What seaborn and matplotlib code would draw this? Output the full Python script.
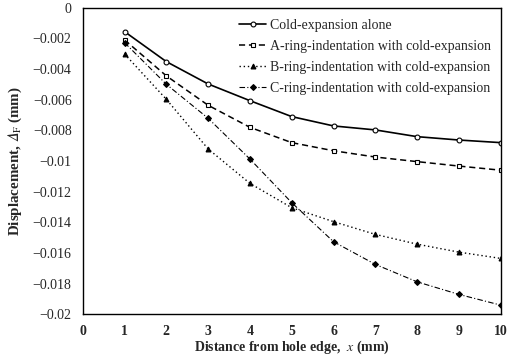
import matplotlib
matplotlib.use("Agg")
import matplotlib.pyplot as plt
import seaborn as sns
import pandas as pd

x = [1, 2, 3, 4, 5, 6, 7, 8, 9, 10]
cold = [-0.00155, -0.00351, -0.00497, -0.00606, -0.0071, -0.00771, -0.00797, -0.00841, -0.00863, -0.0088]
ring_a = [-0.00209, -0.00444, -0.00636, -0.0078, -0.0088, -0.00933, -0.00974, -0.01004, -0.01033, -0.0106]
ring_b = [-0.00301, -0.00597, -0.00921, -0.01146, -0.01305, -0.01396, -0.01479, -0.01543, -0.01595, -0.01636]
ring_c = [-0.00227, -0.00499, -0.00721, -0.00987, -0.01272, -0.01527, -0.01675, -0.01789, -0.01871, -0.01941]
names = ["Cold-expansion alone",
         "A-ring-indentation with cold-expansion",
         "B-ring-indentation with cold-expansion",
         "C-ring-indentation with cold-expansion"]
xticks = [0, 1, 2, 3, 4, 5, 6, 7, 8, 9, 10]
yticks = [0, -0.002, -0.004, -0.006, -0.008, -0.01, -0.012, -0.014, -0.016, -0.018, -0.02]
ytick_labels = ["0", "\u22120.002", "\u22120.004", "\u22120.006", "\u22120.008", "\u22120.01",
                "\u22120.012", "\u22120.014", "\u22120.016", "\u22120.018", "\u22120.02"]

sns.set_style("white")
plt.rcParams["font.family"] = ["Liberation Serif", "DejaVu Serif"]
plt.rcParams["mathtext.fontset"] = "stix"

fig = plt.figure(figsize=(5.17, 3.57), dpi=100)
ax = fig.add_axes([0.160, 0.120, 0.8085, 0.858])

styles = [
    dict(linestyle="-", marker="o", mfc="white", ms=3.5, lw=1.2),
    dict(linestyle=(0, (4, 2.5)), marker="s", mfc="white", ms=3.5, lw=1.1),
    dict(linestyle=(0, (1, 2)), marker="^", mfc="black", ms=3.5, lw=1.0),
    dict(linestyle=(0, (5, 2, 1, 2)), marker="D", mfc="black", ms=3, lw=0.8),
]
for name, vals, st in zip(names, [cold, ring_a, ring_b, ring_c], styles):
    df = pd.DataFrame({"x": x, "y": vals})
    sns.lineplot(data=df, x="x", y="y", ax=ax, color="black", label=name,
                 mec="black", mew=0.8, **st)

ax.set_xlim(0, 10)
ax.set_ylim(-0.02, 0)
ax.set_xticks(xticks)
ax.set_xticklabels([str(t) for t in xticks], fontweight="bold", fontsize=10)
ax.set_yticks(yticks)
ax.set_yticklabels(ytick_labels, fontsize=10)
ax.tick_params(direction="in", length=3, width=0.8, pad=8)
for s in ax.spines.values():
    s.set_color("black")
    s.set_linewidth(1.0)

ax.set_xlabel(r"Distance from hole edge,  $x$ (mm)", fontsize=10, fontweight="bold", labelpad=0)
ax.set_ylabel("Displacement, $\U0001D6E5_{\\mathrm{F}}$ (mm)", fontsize=10.8, fontweight="bold", labelpad=6)

ax.legend(loc="upper right", bbox_to_anchor=(1.0, 0.995), frameon=False, fontsize=10,
          handlelength=1.9, handletextpad=0.3, labelspacing=0.58, borderaxespad=0.3)

fig.savefig("out.png", dpi=100)
